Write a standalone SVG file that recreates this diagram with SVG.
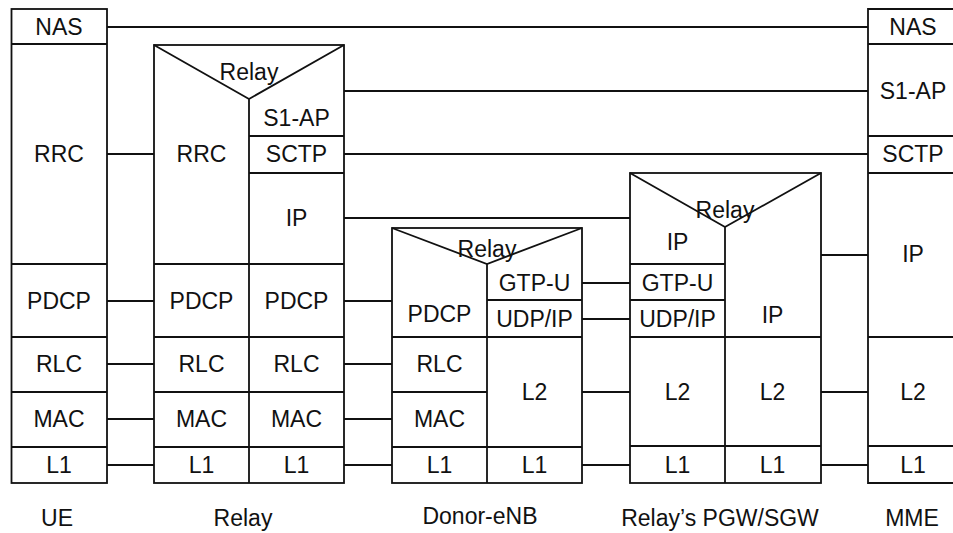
<svg xmlns="http://www.w3.org/2000/svg" width="953" height="533" viewBox="0 0 953 533">
  <style>
    .box { fill: none; stroke: #111; stroke-width: 1.8; }
    .ln { fill: none; stroke: #111; stroke-width: 1.8; }
    text { font-family: "Liberation Sans", Arial, sans-serif; font-size: 23px; fill: #111; text-anchor: middle; }
  </style>
  <rect width="953" height="533" fill="#fff"/>

  <!-- peer-to-peer connectors between the stacks -->
  <g id="connectors" class="ln">
    <line x1="107" y1="27" x2="868" y2="27"/>
    <line x1="344" y1="91" x2="868" y2="91"/>
    <line x1="107" y1="154" x2="154" y2="154"/>
    <line x1="344" y1="154" x2="868" y2="154"/>
    <line x1="344" y1="218" x2="630" y2="218"/>
    <line x1="107" y1="301" x2="154" y2="301"/>
    <line x1="344" y1="301" x2="392" y2="301"/>
    <line x1="582" y1="283" x2="630" y2="283"/>
    <line x1="582" y1="319" x2="630" y2="319"/>
    <line x1="821" y1="255" x2="868" y2="255"/>
    <line x1="107" y1="364" x2="154" y2="364"/>
    <line x1="344" y1="364" x2="392" y2="364"/>
    <line x1="107" y1="419" x2="154" y2="419"/>
    <line x1="344" y1="419" x2="392" y2="419"/>
    <line x1="582" y1="392" x2="630" y2="392"/>
    <line x1="821" y1="392" x2="868" y2="392"/>
    <line x1="107" y1="465" x2="154" y2="465"/>
    <line x1="344" y1="465" x2="392" y2="465"/>
    <line x1="582" y1="465" x2="630" y2="465"/>
    <line x1="821" y1="465" x2="868" y2="465"/>
  </g>

  <!-- UE stack -->
  <g id="ue">
    <rect class="box" x="11.5" y="9" width="95.5" height="474"/>
    <path class="ln" d="M11.5 44H107M11.5 264H107M11.5 337H107M11.5 392H107M11.5 447H107"/>
    <text x="59" y="35">NAS</text>
    <text x="59" y="162">RRC</text>
    <text x="59" y="309">PDCP</text>
    <text x="59" y="372">RLC</text>
    <text x="59" y="427">MAC</text>
    <text x="59" y="473">L1</text>
    <text x="57" y="526">UE</text>
  </g>

  <!-- Relay node stack -->
  <g id="relay">
    <rect class="box" x="154" y="45" width="190" height="438"/>
    <path class="ln" d="M154 45L249 99L344 45M249 99V483"/>
    <path class="ln" d="M249 136H344M249 173H344M154 264H344M154 337H344M154 392H344M154 447H344"/>
    <text x="249" y="80">Relay</text>
    <text x="296.5" y="126">S1-AP</text>
    <text x="296.5" y="162">SCTP</text>
    <text x="296.5" y="226">IP</text>
    <text x="201.5" y="162">RRC</text>
    <text x="201.5" y="309">PDCP</text>
    <text x="296.5" y="309">PDCP</text>
    <text x="201.5" y="372">RLC</text>
    <text x="296.5" y="372">RLC</text>
    <text x="201.5" y="427">MAC</text>
    <text x="296.5" y="427">MAC</text>
    <text x="201.5" y="473">L1</text>
    <text x="296.5" y="473">L1</text>
    <text x="243" y="526">Relay</text>
  </g>

  <!-- Donor-eNB stack -->
  <g id="donor-enb">
    <rect class="box" x="392" y="228" width="190" height="255"/>
    <path class="ln" d="M392 228L487 264L582 228M487 264V483"/>
    <path class="ln" d="M487 300H582M392 337H582M392 392H487M392 447H582"/>
    <text x="487" y="257">Relay</text>
    <text x="534.5" y="291">GTP-U</text>
    <text x="534.5" y="327">UDP/IP</text>
    <text x="439.5" y="322">PDCP</text>
    <text x="439.5" y="372">RLC</text>
    <text x="439.5" y="427">MAC</text>
    <text x="534.5" y="400">L2</text>
    <text x="439.5" y="473">L1</text>
    <text x="534.5" y="473">L1</text>
    <text x="480" y="524">Donor-eNB</text>
  </g>

  <!-- Relay's PGW/SGW stack -->
  <g id="relay-pgw-sgw">
    <rect class="box" x="630" y="173" width="191" height="310"/>
    <path class="ln" d="M630 173L725 227L821 173M725 227V483"/>
    <path class="ln" d="M630 264H725M630 300H725M630 337H821M630 446H821"/>
    <text x="725" y="218">Relay</text>
    <text x="677.5" y="250">IP</text>
    <text x="677.5" y="291">GTP-U</text>
    <text x="677.5" y="327">UDP/IP</text>
    <text x="772.5" y="323">IP</text>
    <text x="677.5" y="400">L2</text>
    <text x="772.5" y="400">L2</text>
    <text x="677.5" y="473">L1</text>
    <text x="772.5" y="473">L1</text>
    <text x="720" y="526">Relay’s PGW/SGW</text>
  </g>

  <!-- MME stack -->
  <g id="mme">
    <path class="ln" d="M953 9H868V483H953"/>
    <path class="ln" d="M868 44H953M868 136H953M868 173H953M868 337H953M868 446H953"/>
    <text x="913" y="35">NAS</text>
    <text x="913" y="99">S1-AP</text>
    <text x="913" y="162">SCTP</text>
    <text x="913" y="262">IP</text>
    <text x="913" y="400">L2</text>
    <text x="913" y="473">L1</text>
    <text x="912" y="526">MME</text>
  </g>
</svg>
